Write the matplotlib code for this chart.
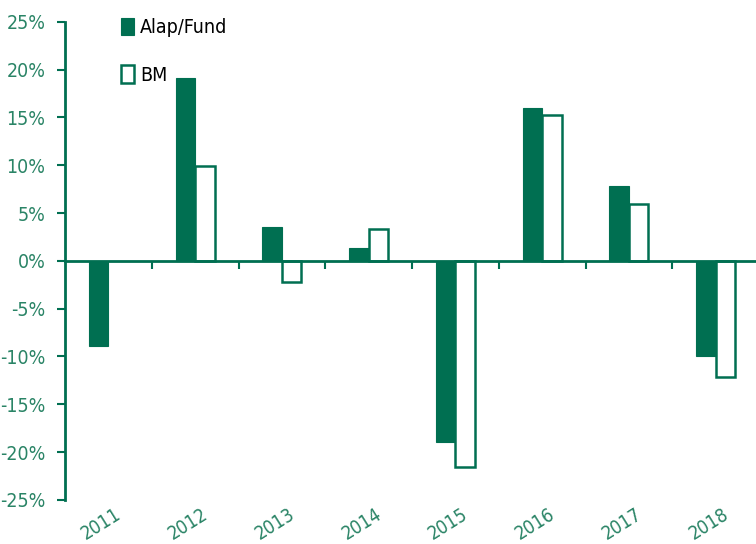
import numpy as np
import matplotlib.pyplot as plt

# yearly returns
years = ['2011', '2012', '2013', '2014', '2015', '2016', '2017', '2018']
fund = [-8.9, 19.1, 3.5, 1.3, -18.9, 16.0, 7.8, -10.0]
bm = [np.nan, 9.9, -2.2, 3.3, -21.6, 15.2, 5.9, -12.1]
yticks = [-25, -20, -15, -10, -5, 0, 5, 10, 15, 20, 25]

green = '#006F51'
tickgreen = '#2A8466'

plt.rcParams['font.family'] = ['Liberation Sans Narrow', 'DejaVu Sans']
plt.rcParams['font.stretch'] = 'condensed'

fig = plt.figure(figsize=(7.56, 5.44), dpi=100)
ax = fig.add_axes([0.086, 0.081, 0.918, 0.879])

x = np.arange(len(years))
w = 0.225
ax.bar(x - w / 2, fund, w, color=green, edgecolor=green, linewidth=0.8, label='Alap/Fund')
ax.bar(x + w / 2, bm, w, color='white', edgecolor=green, linewidth=1.8, label='BM')

ax.set_xlim(-0.5, len(years) - 0.5)
ax.set_ylim(-25, 25)
ax.set_yticks(yticks)
ax.set_yticklabels([f'{v}%' for v in yticks], fontsize=14, color=tickgreen)

# x axis sits on zero, ticks at category boundaries
ax.spines['bottom'].set_position(('data', 0))
ax.spines['bottom'].set_color(green)
ax.spines['bottom'].set_linewidth(2)
ax.spines['left'].set_color(green)
ax.spines['left'].set_linewidth(2)
ax.spines['top'].set_visible(False)
ax.spines['right'].set_visible(False)
ax.set_xticks(np.arange(len(years)) + 0.5)
ax.set_xticklabels([])
ax.tick_params(axis='x', direction='out', length=6, width=1.5, color=green)
ax.tick_params(axis='y', direction='out', length=6, width=1.5, color=green, pad=8)

for i, yr in enumerate(years):
    ax.text(i - 0.08, -27.5, yr, rotation=32, ha='center', va='center',
            fontsize=13.5, color=tickgreen)

leg = ax.legend(loc='upper left', bbox_to_anchor=(0.055, 1.045), frameon=False,
                fontsize=14, handlelength=0.7, handleheight=1.0, handletextpad=0.3,
                labelspacing=1.45)

fig.savefig('out.png', dpi=100)
